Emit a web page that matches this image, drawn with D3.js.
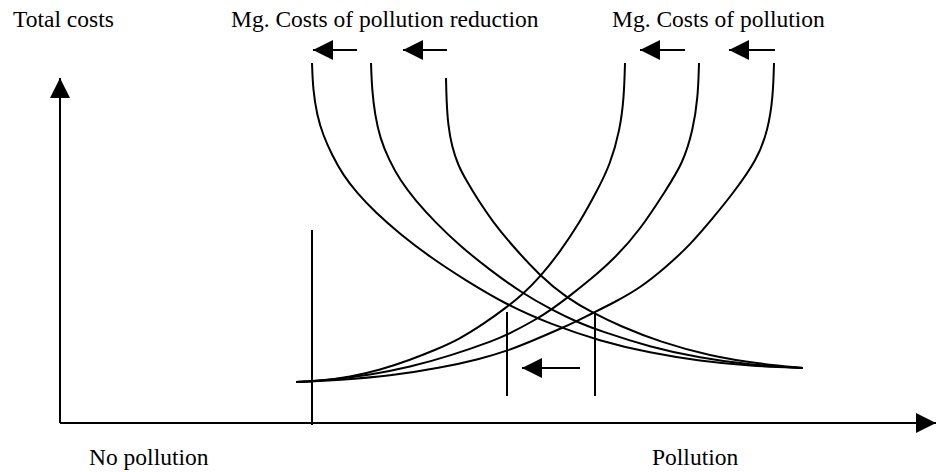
<!DOCTYPE html>
<html>
<head>
<meta charset="utf-8">
<script src="https://cdn.jsdelivr.net/npm/d3@7"></script>
<style>
  body { margin: 0; background: #fff; }
  text { font-family: "Times New Roman", "Liberation Serif", serif; font-size: 23.5px; fill: #000; }
</style>
</head>
<body>
<div class="chart"></div>
<script>
// pollution (x) / costs (y), in plot units
var risingA = [[23.6,4.1],[26,4.2],[29,4.6],[32,5.3],[35,6.3],[37.5,7.3],[39.8,8.3],[42.5,10],[44.7,11.6],[46.2,12.8],[48,14.6],[50,17.1],[52,20.1],[53.7,23.2],[55,25.8],[56,29.3],[56.4,32.6],[56.5,36]];
var risingB = [[23.6,4.1],[27,4.3],[31,4.8],[35,5.6],[39,6.7],[43.5,8.3],[44.7,8.8],[47.7,10.4],[49.2,11.4],[50.7,12.5],[53,14.3],[55.5,16.5],[58,19.3],[60.6,23.3],[62.3,26],[63.3,29.3],[63.8,32.6],[63.9,36]];
var risingC = [[23.6,4.1],[28,4.3],[33,4.7],[38,5.5],[42,6.4],[44.7,7.2],[47.2,8.2],[50.2,9.5],[51.7,10.2],[53.3,11],[55.5,12.1],[58,13.5],[60.5,15.5],[63,17.8],[65.3,20.5],[67.4,23.1],[69.7,26.3],[70.8,29.3],[71.3,32.6],[71.4,36]];

var fallingA = [[25.2,36],[25.3,33.3],[25.7,30.8],[26.3,28.8],[27.2,26.8],[28.3,24.8],[29.7,23],[31.5,21.1],[34,18.9],[37,16.6],[40.5,14.3],[44.7,11.8],[49,9.9],[54,8.2],[59,7],[64,6.2],[69,5.7],[74.3,5.5]];
var fallingB = [[31.1,36],[31.2,33.3],[31.5,30.8],[32,28.5],[32.9,26.3],[34,24.3],[35.5,22.3],[37.5,20.1],[40,17.7],[43,15.3],[46.2,13],[49.2,11.3],[51.7,10.1],[54,9.2],[59,7.6],[64,6.5],[69,5.8],[74.3,5.5]];
var fallingC = [[38.6,34.5],[38.65,32.3],[38.8,29.8],[39.2,27.6],[39.8,25.8],[40.6,24.3],[41.8,22.3],[43.3,20.1],[45,18],[48,14.7],[50.7,12.5],[53.3,11],[56,9.7],[60,8.1],[65,6.7],[70,5.9],[74.3,5.5]];

// vertical guides: [x, yFrom, yTo]
var guides = [[25.2,-0.2,19.3],[44.7,2.7,11.1],[53.5,2.7,11.1]];
// shift arrows: [xFrom, xTo, y]
var shifts = [[29.7,25.3,37.3],[38.7,34.3,37.3],[62.5,58,37.3],[71.5,66.9,37.3],[52,46.2,5.5]];

var labels = [
  {text: "Total costs", x: 13, y: 27},
  {text: "Mg. Costs of pollution reduction", x: 231, y: 27},
  {text: "Mg. Costs of pollution", x: 612, y: 27},
  {text: "No pollution", x: 89, y: 465},
  {text: "Pollution", x: 652, y: 465}
];

var w = 936, h = 472;

var x = d3.scaleLinear().domain([0, 87.6]).range([60, 936]);
var y = d3.scaleLinear().domain([0, 34.5]).range([423, 78]);

var svg = d3.select("div.chart")
            .append("svg")
            .attr("width", w)
            .attr("height", h);

svg.append("defs").append("marker")
    .attr("id", "head")
    .attr("viewBox", "0 -5 10 10")
    .attr("refX", 10)
    .attr("refY", 0)
    .attr("markerUnits", "userSpaceOnUse")
    .attr("markerWidth", 20)
    .attr("markerHeight", 20)
    .attr("orient", "auto")
    .append("path")
    .attr("d", "M0,-5L10,0L0,5Z")
    .attr("fill", "#000");

// axes
svg.append("line")
    .attr("x1", x(0)).attr("y1", y(0))
    .attr("x2", x(0)).attr("y2", y(34.5))
    .attr("stroke", "#000").attr("stroke-width", 2)
    .attr("marker-end", "url(#head)");
svg.append("line")
    .attr("x1", x(0)).attr("y1", y(0))
    .attr("x2", x(87.6)).attr("y2", y(0))
    .attr("stroke", "#000").attr("stroke-width", 2)
    .attr("marker-end", "url(#head)");

var line = d3.line()
    .x(function(d) { return x(d[0]); })
    .y(function(d) { return y(d[1]); })
    .curve(d3.curveBasis);

svg.selectAll("path.curve")
    .data([risingA, risingB, risingC, fallingA, fallingB, fallingC])
    .enter()
    .append("path")
    .attr("class", "curve")
    .attr("d", line)
    .attr("fill", "none")
    .attr("stroke", "#000")
    .attr("stroke-width", 2);

svg.selectAll("line.guide")
    .data(guides)
    .enter()
    .append("line")
    .attr("class", "guide")
    .attr("x1", function(d) { return x(d[0]); })
    .attr("x2", function(d) { return x(d[0]); })
    .attr("y1", function(d) { return y(d[1]); })
    .attr("y2", function(d) { return y(d[2]); })
    .attr("stroke", "#000")
    .attr("stroke-width", 2);

svg.selectAll("line.shift")
    .data(shifts)
    .enter()
    .append("line")
    .attr("class", "shift")
    .attr("x1", function(d) { return x(d[0]); })
    .attr("x2", function(d) { return x(d[1]); })
    .attr("y1", function(d) { return y(d[2]); })
    .attr("y2", function(d) { return y(d[2]); })
    .attr("stroke", "#000")
    .attr("stroke-width", 2)
    .attr("marker-end", "url(#head)");

svg.selectAll("text")
    .data(labels)
    .enter()
    .append("text")
    .attr("x", function(d) { return d.x; })
    .attr("y", function(d) { return d.y; })
    .text(function(d) { return d.text; });
</script>
</body>
</html>
